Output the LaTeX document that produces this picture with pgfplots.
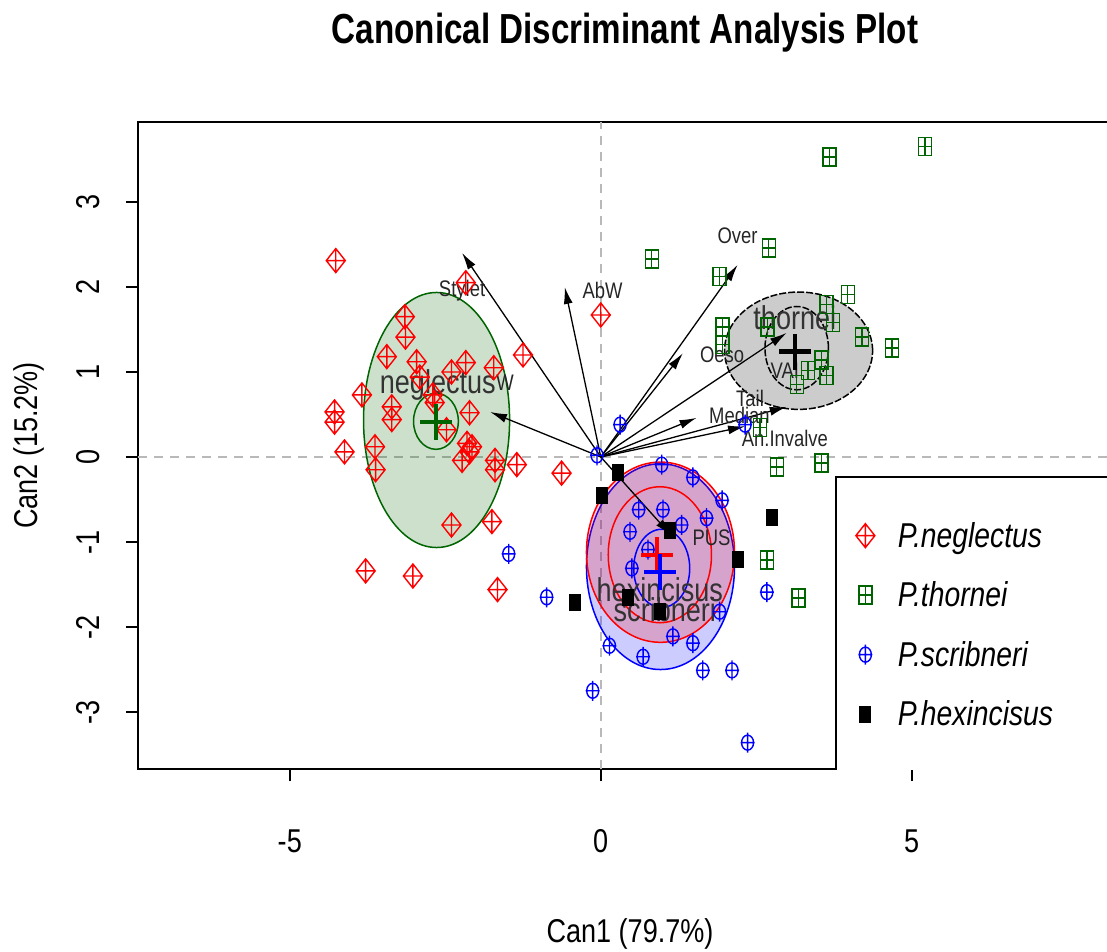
\documentclass[border=0pt]{standalone}
\usepackage{fontspec}
\setmainfont{Liberation Sans}[FakeStretch=0.82]
\newfontfamily\titlefont{Liberation Sans}[FakeStretch=0.79]
\usepackage{pgfplots}
\pgfplotsset{compat=1.18}
\usetikzlibrary{arrows.meta}
\definecolor{dgreen}{RGB}{0,100,0}

\pgfdeclareplotmark{dplus}{%
\pgfpathmoveto{\pgfqpoint{0pt}{12pt}}%
\pgfpathlineto{\pgfqpoint{9.5pt}{0pt}}%
\pgfpathlineto{\pgfqpoint{0pt}{-12pt}}%
\pgfpathlineto{\pgfqpoint{-9.5pt}{0pt}}%
\pgfpathclose
\pgfpathmoveto{\pgfqpoint{0pt}{12pt}}\pgfpathlineto{\pgfqpoint{0pt}{-12pt}}%
\pgfpathmoveto{\pgfqpoint{-9.5pt}{0pt}}\pgfpathlineto{\pgfqpoint{9.5pt}{0pt}}%
\pgfusepathqstroke}
\pgfdeclareplotmark{splus}{%
\pgfpathrectangle{\pgfqpoint{-6.5pt}{-9pt}}{\pgfqpoint{13pt}{18pt}}%
\pgfpathmoveto{\pgfqpoint{0pt}{9pt}}\pgfpathlineto{\pgfqpoint{0pt}{-9pt}}%
\pgfpathmoveto{\pgfqpoint{-6.5pt}{0pt}}\pgfpathlineto{\pgfqpoint{6.5pt}{0pt}}%
\pgfusepathqstroke}
\pgfdeclareplotmark{cplus}{%
\pgfpathellipse{\pgfpointorigin}{\pgfqpoint{6pt}{0pt}}{\pgfqpoint{0pt}{7.5pt}}%
\pgfpathmoveto{\pgfqpoint{0pt}{10pt}}\pgfpathlineto{\pgfqpoint{0pt}{-10pt}}%
\pgfpathmoveto{\pgfqpoint{-7pt}{0pt}}\pgfpathlineto{\pgfqpoint{7pt}{0pt}}%
\pgfusepathqstroke}
\pgfdeclareplotmark{fsq}{%
\pgfpathrectangle{\pgfqpoint{-6pt}{-8.5pt}}{\pgfqpoint{12pt}{17pt}}%
\pgfusepathqfill}
\pgfdeclareplotmark{bigplus}{%
\pgfpathmoveto{\pgfqpoint{-16pt}{0pt}}\pgfpathlineto{\pgfqpoint{16pt}{0pt}}%
\pgfpathmoveto{\pgfqpoint{0pt}{-18pt}}\pgfpathlineto{\pgfqpoint{0pt}{18pt}}%
\pgfusepathqstroke}

\pgfplotstableread{
x y
-4.26 2.31
-2.17 2.05
-3.15 1.65
-3.14 1.41
-3.44 1.18
-2.96 1.12
-2.17 1.11
-1.72 1.05
-1.25 1.20
-2.40 1.00
-3.84 0.73
-4.28 0.53
-4.28 0.41
-3.36 0.59
-3.36 0.44
-2.11 0.52
-2.48 0.32
-2.67 0.64
-2.15 0.16
-2.07 0.12
-4.12 0.06
-3.63 0.12
-3.62 -0.15
-2.23 -0.04
-2.11 0.06
-1.70 -0.04
-1.70 -0.15
-1.35 -0.09
-0.63 -0.19
-2.40 -0.80
-1.75 -0.76
-3.78 -1.34
-3.02 -1.40
-1.66 -1.56
0.00 1.67
-2.91 0.94
-2.70 0.73
}\neglectus

\pgfplotstableread{
x y
5.21 3.65
3.68 3.53
2.70 2.46
0.82 2.33
1.91 2.12
3.97 1.91
3.63 1.79
3.73 1.58
1.96 1.53
2.68 1.53
4.20 1.41
4.68 1.28
1.96 1.32
3.55 1.14
3.33 1.02
3.63 0.96
3.15 0.85
2.56 0.35
2.83 -0.12
3.55 -0.07
2.67 -1.21
3.18 -1.66
}\thornei

\pgfplotstableread{
x y
-0.06 0.02
0.31 0.38
2.32 0.38
0.98 -0.09
1.48 -0.24
1.95 -0.51
1.70 -0.72
0.61 -0.62
1.00 -0.62
1.30 -0.80
0.47 -0.88
0.76 -1.09
0.50 -1.31
-0.87 -1.65
1.91 -1.82
2.67 -1.59
1.16 -2.11
1.48 -2.19
0.14 -2.22
0.68 -2.35
1.64 -2.51
2.11 -2.51
-0.13 -2.75
2.36 -3.36
-1.48 -1.14
}\scribneri

\pgfplotstableread{
x y
0.27 -0.18
0.02 -0.45
1.11 -0.86
2.20 -1.21
2.75 -0.71
-0.42 -1.71
0.43 -1.65
0.95 -1.82
}\hexincisus

\begin{document}
\begin{tikzpicture}
\useasboundingbox (0,0) rectangle (1107pt,951pt);
\clip (0,0) rectangle (1107pt,951pt);
\begin{axis}[
  at={(138pt,182pt)}, anchor=south west,
  scale only axis, width=984pt, height=647pt,
  xmin=-7.44, xmax=8.38, ymin=-3.67, ymax=3.94,
  axis line style={line width=1.5pt},
  xtick={-5,0,5}, xticklabels={-5,0,5},
  ytick={-3,-2,-1,0,1,2,3}, yticklabels={-3,-2,-1,0,1,2,3},
  xtick pos=left, ytick pos=left,
  tick align=outside, major tick length=12pt,
  tick style={line width=1.5pt, black},
  ticklabel style={font=\fontsize{33}{40}\selectfont},
  xticklabel style={anchor=base, yshift=-71pt},
  yticklabel style={xshift=-26pt, rotate=90, anchor=base},
  title={Canonical Discriminant Analysis Plot},
  title style={at={(axis description cs:0.495,1.1113)}, anchor=base, font=\titlefont\bfseries\fontsize{42}{50}\selectfont},
  xlabel={Can1 (79.7\%)},
  xlabel style={at={(axis description cs:0.5,-0.2674)}, anchor=base, font=\fontsize{33}{40}\selectfont},
  ylabel={Can2 (15.2\%)},
  ylabel style={at={(axis description cs:-0.1026,0.5)}, anchor=base, rotate=0, font=\fontsize{33}{40}\selectfont},
  legend style={draw=none, fill=none, at={(axis cs:4.05,-0.72)}, anchor=north west,
     font=\itshape\fontsize{34.5}{41}\selectfont, row sep=29pt, column sep=21pt},
  legend cell align=left,
  clip=true,
]
\addplot[gray!55, line width=1.5pt, dash pattern=on 9pt off 7pt, forget plot] coordinates {(0,-3.67) (0,3.94)};
\addplot[gray!55, line width=1.5pt, dash pattern=on 9pt off 7pt, forget plot] coordinates {(-7.44,0) (8.38,0)};

\addplot[only marks, red, mark=dplus, mark options={line width=1.4pt}] table {\neglectus};
\addlegendentry{P.neglectus}
\addplot[only marks, dgreen, mark=splus, mark options={line width=1.4pt}] table {\thornei};
\addlegendentry{P.thornei}
\addplot[only marks, blue, mark=cplus, mark options={line width=1.4pt}] table {\scribneri};
\addlegendentry{P.scribneri}
\addplot[only marks, black, mark=fsq] table {\hexincisus};
\addlegendentry{P.hexincisus}

% ellipses
\draw[dgreen, line width=1.5pt, fill=dgreen, fill opacity=0.2] (axis cs:-2.64,0.435) ellipse [x radius=1.174, y radius=1.50];
\draw[dgreen, line width=1.5pt] (axis cs:-2.65,0.42) ellipse [x radius=0.36, y radius=0.33];
\draw[black, line width=1.5pt, dash pattern=on 7pt off 2pt, fill=black, fill opacity=0.2] (axis cs:3.18,1.25) ellipse [x radius=1.19, y radius=0.69];
\draw[black, line width=1.5pt, dash pattern=on 7pt off 2pt] (axis cs:3.15,1.28) ellipse [x radius=0.51, y radius=0.49];
\draw[blue, line width=1.5pt, fill=blue, fill opacity=0.2] (axis cs:0.96,-1.29) ellipse [x radius=1.19, y radius=1.21];
\draw[red, line width=1.5pt, fill=red, fill opacity=0.2] (axis cs:0.96,-1.12) ellipse [x radius=1.19, y radius=1.06];
\draw[red, line width=1.5pt] (axis cs:0.95,-1.15) ellipse [x radius=0.83, y radius=0.80];
\draw[blue, line width=1.5pt] (axis cs:0.98,-1.31) ellipse [x radius=0.45, y radius=0.46];

% centroids
\addplot[only marks, dgreen, mark=bigplus, mark options={line width=4.5pt}, forget plot] coordinates {(-2.65,0.41)};
\addplot[only marks, black, mark=bigplus, mark options={line width=4.5pt}, forget plot] coordinates {(3.12,1.24)};
\addplot[only marks, red, mark=bigplus, mark options={line width=4.5pt}, forget plot] coordinates {(0.90,-1.15)};
\addplot[only marks, blue, mark=bigplus, mark options={line width=4.5pt}, forget plot] coordinates {(0.95,-1.35)};

% structure vectors
\addplot[black, line width=1.3pt, -{Latex[length=17pt,width=9pt]}, forget plot] coordinates {(0,0) (-2.23,2.40)};
\addplot[black, line width=1.3pt, -{Latex[length=17pt,width=9pt]}, forget plot] coordinates {(0,0) (-0.58,2.00)};
\addplot[black, line width=1.3pt, -{Latex[length=17pt,width=9pt]}, forget plot] coordinates {(0,0) (-1.78,0.53)};
\addplot[black, line width=1.3pt, -{Latex[length=17pt,width=9pt]}, forget plot] coordinates {(0,0) (2.20,2.26)};
\addplot[black, line width=1.3pt, -{Latex[length=17pt,width=9pt]}, forget plot] coordinates {(0,0) (1.32,1.22)};
\addplot[black, line width=1.3pt, -{Latex[length=17pt,width=9pt]}, forget plot] coordinates {(0,0) (2.99,1.46)};
\addplot[black, line width=1.3pt, -{Latex[length=17pt,width=9pt]}, forget plot] coordinates {(0,0) (2.99,0.59)};
\addplot[black, line width=1.3pt, -{Latex[length=17pt,width=9pt]}, forget plot] coordinates {(0,0) (1.54,0.46)};
\addplot[black, line width=1.3pt, -{Latex[length=17pt,width=9pt]}, forget plot] coordinates {(0,0) (2.32,0.36)};
\addplot[black, line width=1.3pt, -{Latex[length=17pt,width=9pt]}, forget plot] coordinates {(0,0) (1.13,-0.92)};

\begin{scope}[every node/.style={font=\fontsize{22.5}{27}\selectfont, text=black!85}]
\node at (axis cs:-2.23,1.96) {Stylet};
\node at (axis cs:0.03,1.96) {AbW};
\node at (axis cs:-1.54,0.87) {W};
\node at (axis cs:2.20,2.60) {Over};
\node at (axis cs:1.95,1.20) {Oeso};
\node at (axis cs:2.96,1.02) {VAI};
\node at (axis cs:2.40,0.69) {Tail};
\node at (axis cs:2.23,0.49) {Median};
\node at (axis cs:2.96,0.22) {An.Invalve};
\node at (axis cs:1.78,-0.95) {PUS};
\end{scope}

\begin{scope}[every node/.style={font=\fontsize{33}{40}\selectfont, text=black!80}]
\node at (axis cs:-2.62,0.85) {neglectus};
\node at (axis cs:3.12,1.64) {thornei};
\node at (axis cs:0.95,-1.56) {hexincisus};
\node at (axis cs:1.03,-1.80) {scribneri};
\end{scope}

\draw[line width=1.5pt, fill=white] (axis cs:3.78,-0.235) rectangle (axis cs:9.5,-4.0);
\end{axis}
\end{tikzpicture}
\end{document}
